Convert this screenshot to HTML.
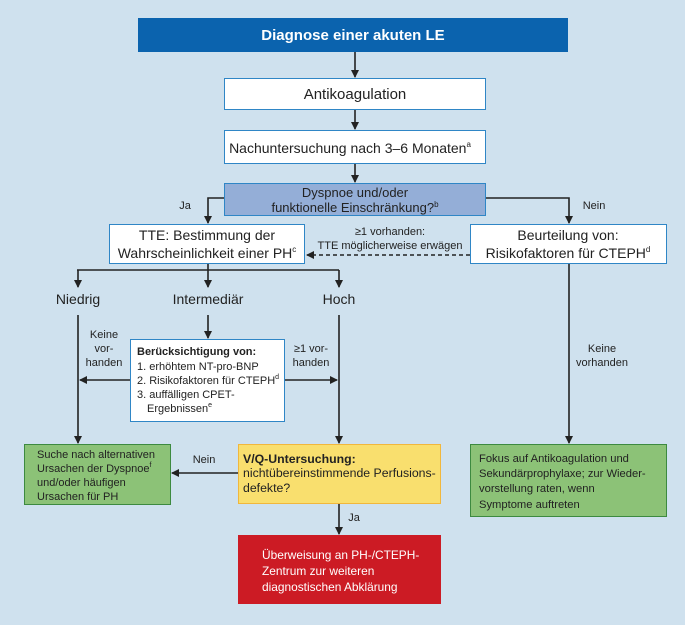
<!DOCTYPE html>
<html><head><meta charset="utf-8"><style>
html,body{margin:0;padding:0;background:#cfe1ee}
svg{display:block}
text{font-family:"Liberation Sans Narrow","Liberation Sans",sans-serif;fill:#222}
</style></head><body>
<svg width="685" height="625" viewBox="0 0 685 625" xmlns="http://www.w3.org/2000/svg">
<defs><marker id="a" markerWidth="8" markerHeight="8" refX="7" refY="4" orient="auto" markerUnits="userSpaceOnUse"><path d="M0,0 L8,4 L0,8 z" fill="#222"/></marker></defs>
<rect width="685" height="625" fill="#cfe1ee"/>
<g stroke="#222" stroke-width="1.6" fill="none">
<line x1="355" y1="52" x2="355" y2="77" marker-end="url(#a)"/>
<line x1="355" y1="110" x2="355" y2="129" marker-end="url(#a)"/>
<line x1="355" y1="164" x2="355" y2="182" marker-end="url(#a)"/>
<polyline points="224,198 208,198 208,223" marker-end="url(#a)"/>
<polyline points="486,198 569,198 569,223" marker-end="url(#a)"/>
<line x1="470" y1="255" x2="307" y2="255" stroke-dasharray="4,3" marker-end="url(#a)"/>
<line x1="208" y1="264" x2="208" y2="270"/>
<line x1="77" y1="270" x2="339" y2="270"/>
<line x1="78" y1="270" x2="78" y2="287" marker-end="url(#a)"/>
<line x1="208" y1="270" x2="208" y2="287" marker-end="url(#a)"/>
<line x1="339" y1="270" x2="339" y2="287" marker-end="url(#a)"/>
<line x1="78" y1="315" x2="78" y2="443" marker-end="url(#a)"/>
<line x1="208" y1="315" x2="208" y2="338" marker-end="url(#a)"/>
<line x1="339" y1="315" x2="339" y2="443" marker-end="url(#a)"/>
<line x1="130" y1="380" x2="80" y2="380" marker-end="url(#a)"/>
<line x1="284" y1="380" x2="337" y2="380" marker-end="url(#a)"/>
<line x1="569" y1="264" x2="569" y2="443" marker-end="url(#a)"/>
<line x1="238" y1="473" x2="172" y2="473" marker-end="url(#a)"/>
<line x1="339" y1="503" x2="339" y2="534" marker-end="url(#a)"/>
</g>
<rect x="138" y="18" width="430" height="34" fill="#0b63ae"/>
<text x="353" y="40" text-anchor="middle" font-size="15" font-weight="bold" style="fill:#fff">Diagnose einer akuten LE</text>
<rect x="224.5" y="78.5" width="261" height="31" fill="#fff" stroke="#2f86c6"/>
<text x="355" y="99" text-anchor="middle" font-size="15">Antikoagulation</text>
<rect x="224.5" y="130.5" width="261" height="33" fill="#fff" stroke="#2f86c6"/>
<text x="350" y="153" text-anchor="middle" font-size="14">Nachuntersuchung nach 3–6 Monaten<tspan font-size="8" dy="-6">a</tspan></text>
<rect x="224.5" y="183.5" width="261" height="32" fill="#94aed7" stroke="#2f86c6"/>
<text x="355" y="197" text-anchor="middle" font-size="13">Dyspnoe und/oder</text>
<text x="355" y="212" text-anchor="middle" font-size="13">funktionelle Einschränkung?<tspan font-size="8" dy="-5">b</tspan></text>
<text x="185" y="209" text-anchor="middle" font-size="11">Ja</text>
<text x="594" y="209" text-anchor="middle" font-size="11">Nein</text>
<rect x="109.5" y="224.5" width="195" height="39" fill="#fff" stroke="#2f86c6"/>
<text x="207" y="240" text-anchor="middle" font-size="14">TTE: Bestimmung der</text>
<text x="207" y="258" text-anchor="middle" font-size="14">Wahrscheinlichkeit einer PH<tspan font-size="8" dy="-6">c</tspan></text>
<rect x="470.5" y="224.5" width="196" height="39" fill="#fff" stroke="#2f86c6"/>
<text x="568" y="240" text-anchor="middle" font-size="14">Beurteilung von:</text>
<text x="568" y="258" text-anchor="middle" font-size="14">Risikofaktoren für CTEPH<tspan font-size="8" dy="-6">d</tspan></text>
<text x="390" y="235" text-anchor="middle" font-size="11">≥1 vorhanden:</text>
<text x="390" y="249" text-anchor="middle" font-size="11">TTE möglicherweise erwägen</text>
<text x="78" y="304" text-anchor="middle" font-size="14">Niedrig</text>
<text x="208" y="304" text-anchor="middle" font-size="14">Intermediär</text>
<text x="339" y="304" text-anchor="middle" font-size="14">Hoch</text>
<g font-size="11" text-anchor="middle">
<text x="104" y="338">Keine</text><text x="104" y="352">vor-</text><text x="104" y="366">handen</text>
<text x="311" y="352">≥1 vor-</text><text x="311" y="366">handen</text>
<text x="602" y="352">Keine</text><text x="602" y="366">vorhanden</text>
<text x="204" y="463">Nein</text><text x="354" y="521">Ja</text>
</g>
<rect x="130.5" y="339.5" width="154" height="82" fill="#fff" stroke="#2f86c6"/>
<g font-size="11">
<text x="137" y="355" font-weight="bold">Berücksichtigung von:</text>
<text x="137" y="370">1. erhöhtem NT-pro-BNP</text>
<text x="137" y="384">2. Risikofaktoren für CTEPH<tspan font-size="7" dy="-5">d</tspan></text>
<text x="137" y="398">3. auffälligen CPET-</text>
<text x="147" y="412">Ergebnissen<tspan font-size="7" dy="-5">e</tspan></text>
</g>
<rect x="24.5" y="444.5" width="146" height="60" fill="#8cc277" stroke="#3d8a40"/>
<g font-size="11">
<text x="37" y="458">Suche nach alternativen</text>
<text x="37" y="472">Ursachen der Dyspnoe<tspan font-size="7" dy="-5">f</tspan></text>
<text x="37" y="486">und/oder häufigen</text>
<text x="37" y="500">Ursachen für PH</text>
</g>
<rect x="238.5" y="444.5" width="202" height="59" fill="#f9df6e" stroke="#f1b73c"/>
<g font-size="12.3">
<text x="243" y="463" font-weight="bold">V/Q-Untersuchung:</text>
<text x="243" y="477">nichtübereinstimmende Perfusions-</text>
<text x="243" y="492">defekte?</text>
</g>
<rect x="470.5" y="444.5" width="196" height="72" fill="#8cc277" stroke="#3d8a40"/>
<g font-size="11.2">
<text x="479" y="462">Fokus auf Antikoagulation und</text>
<text x="479" y="477">Sekundärprophylaxe; zur Wieder-</text>
<text x="479" y="492">vorstellung raten, wenn</text>
<text x="479" y="508">Symptome auftreten</text>
</g>
<rect x="238" y="535" width="203" height="69" fill="#cc1b24"/>
<g font-size="11.9">
<text x="262" y="559" style="fill:#fff">Überweisung an PH-/CTEPH-</text>
<text x="262" y="575" style="fill:#fff">Zentrum zur weiteren</text>
<text x="262" y="591" style="fill:#fff">diagnostischen Abklärung</text>
</g>
</svg>
</body></html>
